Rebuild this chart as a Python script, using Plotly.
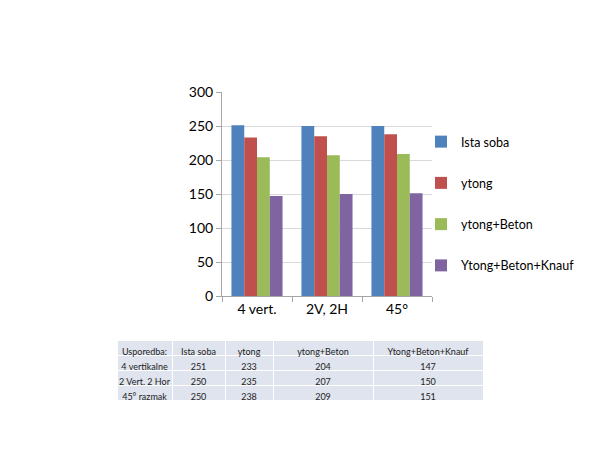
import plotly.graph_objects as go

categories = ["4 vert.", "2V, 2H", "45°"]
series_names = ["Ista soba", "ytong", "ytong+Beton", "Ytong+Beton+Knauf"]
ista_soba = [251, 250, 250]
ytong = [233, 235, 238]
ytong_beton = [204, 207, 209]
ytong_beton_knauf = [147, 150, 151]
colors = ["#4F81BD", "#C0504D", "#9BBB59", "#8064A2"]

table_header = ["Usporedba:", "Ista soba", "ytong", "ytong+Beton", "Ytong+Beton+Knauf"]
table_rows = ["4 vertikalne", "2 Vert, 2 Hor", "45° razmak"]

W, H = 600, 449
FONT = "Lato, Carlito, Calibri, sans-serif"
NB = "\u00a0"

fig = go.Figure()
all_series = [ista_soba, ytong, ytong_beton, ytong_beton_knauf]
for i, (name, vals) in enumerate(zip(series_names, all_series)):
    fig.add_trace(go.Bar(
        x=categories, y=vals, name=name,
        marker=dict(color=colors[i], line=dict(width=0)),
        legendgroup=f"g{i}",
    ))

cols = [[r.replace(" ", NB) for r in table_rows]] + [[str(v) for v in s] for s in all_series]
fig.add_trace(go.Table(
    domain=dict(x=[117 / W, 483 / W], y=[1 - 405 / H, 1 - 340 / H]),
    columnwidth=[55, 53, 48, 100, 110],
    header=dict(values=[h.replace(" ", NB) for h in table_header], fill_color="#DFE4EE",
                line=dict(color="white", width=1), align="center",
                font=dict(family=FONT, size=9, color="#222222"), height=15),
    cells=dict(values=cols, fill_color="#DFE4EE",
               line=dict(color="white", width=1), align="center",
               font=dict(family=FONT, size=9, color="#222222"), height=15),
))

fig.update_layout(
    width=W, height=H,
    margin=dict(l=0, r=0, t=0, b=0),
    paper_bgcolor="white", plot_bgcolor="white",
    font=dict(family=FONT, color="#000000"),
    barmode="group", bargap=0.27, bargroupgap=0,
    showlegend=True,
    legend=dict(x=421 / W, y=1 - 127 / H, xanchor="left", yanchor="top",
                font=dict(size=12.5, family=FONT), tracegroupgap=22,
                itemwidth=30, bgcolor="rgba(0,0,0,0)"),
    xaxis=dict(domain=[222 / W, 432 / W], automargin=False,
               showline=True, linecolor="#A6A6A6", linewidth=1,
               ticks="outside", tickson="boundaries", ticklen=5, tickcolor="#A6A6A6",
               tickfont=dict(size=14, family=FONT), showgrid=False),
    yaxis=dict(domain=[1 - 296 / H, 1 - 92 / H], automargin=False,
               range=[0, 300], dtick=50, tickformat="d",
               showline=True, linecolor="#A6A6A6", linewidth=1,
               ticks="outside", ticklen=5, tickcolor="#A6A6A6",
               tickfont=dict(size=14, family=FONT),
               showgrid=True, gridcolor="#D9D9D9", gridwidth=1,
               zeroline=False),
)

fig.write_html("out.html", config={"displayModeBar": False},
               post_script="document.body.style.margin='0';document.body.style.overflow='hidden';")
